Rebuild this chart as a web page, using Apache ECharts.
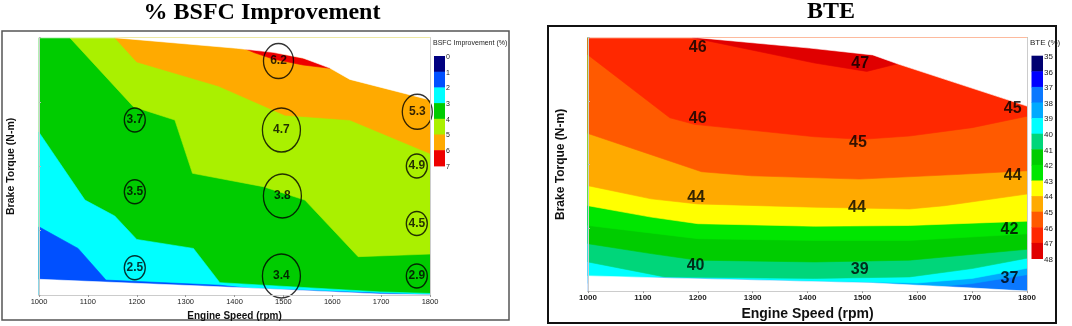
<!DOCTYPE html>
<html>
<head>
<meta charset="utf-8">
<script src="https://cdn.jsdelivr.net/npm/echarts@6/dist/echarts.min.js"></script>
<style>
  html, body { margin: 0; background: #fff; }
  #chart { width: 1072px; height: 326px; }
</style>
</head>
<body>
<div id="chart"></div>
<script>
// points are [engine speed (rpm), brake torque (% of axis)]
const rpmTicks = [1000, 1100, 1200, 1300, 1400, 1500, 1600, 1700, 1800];

// ---- % BSFC improvement ----
const bsfcLevels = [0, 1, 2, 3, 4, 5, 6, 7];
const bsfcColors = ['#000080', '#0050ff', '#00ffff', '#00cc00', '#aaf000', '#ffaa00', '#ee0000'];
const bsfcTop = [[1000, 100], [1155, 100], [1404, 95.9], [1479, 94.3], [1540, 92.1], [1595, 88.2], [1636, 83.8], [1800, 75.8]];
const bsfcBottom = [[1000, 6.1], [1370, 3.2], [1698, 0.4], [1800, 0]];
const bsfcEdge2 = [[1000, 26.5], [1080, 18.1], [1137, 5.8], [1370, 3.8], [1430, 2.6], [1800, 0]];
const bsfcEdge3 = [[1000, 63.2], [1094, 36.9], [1155, 30.7], [1200, 21.6], [1316, 18.1], [1370, 4.8], [1698, 1.2], [1800, 0.6]];
const bsfcEdge4 = [[1063, 100], [1193, 73.2], [1278, 68.0], [1314, 47.3], [1459, 42.1], [1544, 36.9], [1653, 14.9], [1800, 15.9]];
const bsfcEdge5 = [[1155, 100], [1200, 90.6], [1367, 81.2], [1503, 69.9], [1636, 68.0], [1800, 55.0]];
const bsfcPatch6 = [[1400, 97.5], [1600, 89.5], [1596, 88.1], [1540, 89.4], [1479, 91.7], [1440, 94.2]];
const bsfcMarksSmall = [[1196, 68.0, '3.7'], [1196, 40.1, '3.5'], [1196, 10.6, '2.5'], [1773, 50.1, '4.9'], [1773, 27.8, '4.5'], [1773, 7.4, '2.9']];
const bsfcMarksMid = [[1490, 90.9, '6.2'], [1774, 71.2, '5.3']];
const bsfcMarksLarge = [[1496, 64.1, '4.7'], [1498, 38.5, '3.8'], [1496, 7.4, '3.4']];

// ---- BTE ----
const bteLevels = [35, 36, 37, 38, 39, 40, 41, 42, 43, 44, 45, 46, 47, 48];
const bteColors = ['#000070', '#0000ff', '#0a78ff', '#00aaff', '#00ffff', '#00d67a', '#00cc00', '#00e600',
                   '#ffff00', '#ffaa00', '#ff5a00', '#ff2800', '#e00000'];
const bteTop = [[1000, 100], [1200, 100], [1404, 95.9], [1519, 93.2], [1564, 89.7], [1800, 73]];
const bteBottom = [[1000, 6], [1137, 5.2], [1519, 3.2], [1701, 1.2], [1800, 0]];
const bteEdge38 = [[1000, 3], [1500, 2.2], [1650, 2], [1700, 3], [1800, 6.5]];
const bteEdge39 = [[1000, 5], [1140, 5.6], [1413, 4.0], [1600, 3.2], [1700, 5.0], [1800, 9]];
const bteEdge40 = [[1000, 11.5], [1140, 5.6], [1413, 5.0], [1586, 5.6], [1700, 8.9], [1800, 13]];
const bteEdge41 = [[1000, 18.7], [1115, 14.8], [1200, 12.2], [1413, 11.5], [1586, 12.2], [1800, 16.5]];
const bteEdge42 = [[1000, 25.9], [1200, 20.7], [1413, 20], [1586, 20], [1800, 22.6]];
const bteEdge43 = [[1000, 33.7], [1115, 29.2], [1200, 26.6], [1413, 25.6], [1586, 25.9], [1800, 27.6]];
const bteEdge44 = [[1000, 41.6], [1115, 36.4], [1200, 34.4], [1413, 33.1], [1586, 32.4], [1650, 33.7], [1800, 38.3]];
const bteEdge45 = [[1000, 62.2], [1207, 47.1], [1298, 45.5], [1495, 44.2], [1670, 46], [1800, 47.5]];
const bteEdge46 = [[1000, 93.2], [1149, 68.4], [1194, 65.8], [1413, 60.9], [1500, 59.9], [1586, 61.2], [1700, 64.5], [1800, 69]];
const btePatch47 = [[1190, 100], [1404, 97], [1519, 94.5], [1564, 89.7], [1508, 86.7], [1413, 90.0]];
const bteLabels = [[1200, 96.1, '46'], [1200, 68.1, '46'], [1496, 89.9, '47'], [1492, 58.6, '45'], [1774, 71.9, '45'],
                   [1197, 37.0, '44'], [1490, 33.1, '44'], [1774, 45.5, '44'], [1768, 24.2, '42'],
                   [1196, 10.2, '40'], [1495, 8.6, '39'], [1768, 5.0, '37']];

const FULL = [[1000, 0], [1800, 0], [1800, 100], [1000, 100]];
const above = edge => edge.concat([[1800, 100], [1000, 100]]);
const below = edge => edge.concat([[1800, 0], [1000, 0]]);
const maskTop = top => top.concat([[1800, 100]]);
const maskBottom = bot => bot.concat([[1800, 0], [1000, 0]]);

const bsfcBands = [
  { pts: FULL, color: bsfcColors[3] },
  { pts: below(bsfcEdge3), color: bsfcColors[2] },
  { pts: below(bsfcEdge2), color: bsfcColors[1] },
  { pts: bsfcEdge4.concat([[1800, 100]]), color: bsfcColors[4] },
  { pts: bsfcEdge5.concat([[1800, 100]]), color: bsfcColors[5] },
  { pts: bsfcPatch6, color: bsfcColors[6] },
  { pts: maskTop(bsfcTop), color: '#fff' },
  { pts: maskBottom(bsfcBottom), color: '#fff' }
];

const bteBands = [
  { pts: FULL, color: bteColors[2] },
  { pts: above(bteEdge38), color: bteColors[3] },
  { pts: above(bteEdge39), color: bteColors[4] },
  { pts: above(bteEdge40), color: bteColors[5] },
  { pts: above(bteEdge41), color: bteColors[6] },
  { pts: above(bteEdge42), color: bteColors[7] },
  { pts: above(bteEdge43), color: bteColors[8] },
  { pts: above(bteEdge44), color: bteColors[9] },
  { pts: above(bteEdge45), color: bteColors[10] },
  { pts: above(bteEdge46), color: bteColors[11] },
  { pts: btePatch47, color: bteColors[12] },
  { pts: maskTop(bteTop), color: '#fff' },
  { pts: maskBottom(bteBottom), color: '#fff' }
];

function bandSeries(bands, idx) {
  return {
    type: 'custom',
    xAxisIndex: idx * 2,
    yAxisIndex: idx * 2,
    silent: true,
    data: bands.map(() => [1000, 0]),
    renderItem: (params, api) => {
      const b = bands[params.dataIndex];
      return {
        type: 'polygon',
        shape: { points: b.pts.map(p => api.coord(p)) },
        style: { fill: b.color, stroke: b.color, lineWidth: 0.6 }
      };
    }
  };
}

function circleSeries(marks, size) {
  return {
    type: 'scatter',
    xAxisIndex: 0, yAxisIndex: 0,
    data: marks,
    clip: false,
    z: 5,
    symbol: 'circle',
    symbolSize: size,
    itemStyle: { color: 'rgba(0,0,0,0)', borderColor: '#000', borderWidth: 1.4 },
    label: {
      show: true, position: 'inside', formatter: p => p.value[2],
      color: '#000', fontFamily: 'Arial', fontWeight: 'bold', fontSize: 12
    }
  };
}

function colorBar(levels, colors, x, y0, w, h, fs) {
  const out = [];
  colors.forEach((c, i) => {
    out.push({ type: 'rect', shape: { x: x, y: y0 + i * h, width: w, height: h + 0.5 }, style: { fill: c } });
  });
  levels.forEach((v, i) => {
    out.push({ type: 'text', x: x + w + 1, y: y0 + i * h + 1,
      style: { text: String(v), font: fs + 'px Arial', fill: '#222', verticalAlign: 'middle' } });
  });
  return out;
}

function xAxes(grid, labelSize, nameSize) {
  return [{
    gridIndex: grid, type: 'value', min: rpmTicks[0], max: rpmTicks[rpmTicks.length - 1], interval: 100, z: 10,
    name: 'Engine Speed (rpm)', nameLocation: 'middle', nameGap: nameSize > 12 ? 12 : 13,
    nameTextStyle: { fontFamily: 'Arial', fontWeight: 'bold', fontSize: nameSize, color: '#111' },
    axisLine: { lineStyle: { color: '#999', width: 1 } },
    axisTick: { length: 2, lineStyle: { color: '#999' } },
    axisLabel: { fontSize: labelSize, fontFamily: 'Arial', color: '#222', margin: 3,
                 fontWeight: grid ? 'bold' : 'normal', formatter: v => String(v) },
    splitLine: { show: false }
  }, {
    gridIndex: grid, type: 'value', min: 1000, max: 1800, position: 'top', z: 10,
    axisLine: { lineStyle: { color: '#ccc' } }, axisTick: { show: false }, axisLabel: { show: false },
    splitLine: { show: false }
  }];
}

function yAxes(grid, nameSize, gap) {
  return [{
    gridIndex: grid, type: 'value', min: 0, max: 100, interval: 25, z: 10,
    name: 'Brake Torque (N-m)', nameLocation: 'middle', nameGap: gap,
    nameTextStyle: { fontFamily: 'Arial', fontWeight: 'bold', fontSize: nameSize, color: '#111' },
    axisLine: { show: true, lineStyle: { color: '#ccc' } },
    axisTick: { inside: true, length: 2, lineStyle: { color: '#bbb' } },
    axisLabel: { show: false },
    splitLine: { show: false }
  }, {
    gridIndex: grid, type: 'value', min: 0, max: 100, position: 'right', z: 10,
    axisLine: { show: true, lineStyle: { color: '#ccc' } }, axisTick: { show: false }, axisLabel: { show: false },
    splitLine: { show: false }
  }];
}

const chart = echarts.init(document.getElementById('chart'));
chart.setOption({
  animation: false,
  grid: [
    { left: 39, right: 642, top: 37.7, bottom: 31 },
    { left: 588, right: 45, top: 37.7, bottom: 33.3 }
  ],
  xAxis: xAxes(0, 7.5, 10).concat(xAxes(1, 8, 14)),
  yAxis: yAxes(0, 10.5, 22).concat(yAxes(1, 12, 21)),
  graphic: [
    { type: 'rect', shape: { x: 2, y: 31, width: 507, height: 289 }, style: { fill: 'none', stroke: '#555', lineWidth: 1.5 } },
    { type: 'rect', shape: { x: 548, y: 26, width: 508, height: 297 }, style: { fill: 'none', stroke: '#111', lineWidth: 2 } },
    { type: 'text', x: 262, y: 13, style: { text: '% BSFC Improvement', font: 'bold 24px "Liberation Serif"', fill: '#000', align: 'center', verticalAlign: 'middle' } },
    { type: 'text', x: 831, y: 12, style: { text: 'BTE', font: 'bold 24px "Liberation Serif"', fill: '#000', align: 'center', verticalAlign: 'middle' } },
    { type: 'text', x: 433, y: 43, style: { text: 'BSFC Improvement (%)', font: '7px Arial', fill: '#222', verticalAlign: 'middle' } },
    { type: 'text', x: 1030, y: 43, style: { text: 'BTE (%)', font: '8px Arial', fill: '#222', verticalAlign: 'middle' } }
  ].concat(colorBar(bsfcLevels, bsfcColors, 434, 56, 11, 15.7, 7))
   .concat(colorBar(bteLevels, bteColors, 1031.5, 55.7, 11.5, 15.6, 8)),
  series: [
    bandSeries(bsfcBands, 0),
    bandSeries(bteBands, 1),
    circleSeries(bsfcMarksSmall, [21, 24]),
    circleSeries(bsfcMarksMid, [30, 35]),
    circleSeries(bsfcMarksLarge, [38, 44]),
    {
      type: 'scatter', xAxisIndex: 2, yAxisIndex: 2, data: bteLabels, clip: false, z: 5,
      symbolSize: 1, itemStyle: { color: 'rgba(0,0,0,0)' },
      label: { show: true, position: 'inside', formatter: p => p.value[2], color: '#000',
               fontFamily: 'Arial', fontWeight: 'bold', fontSize: 16 }
    }
  ]
});
</script>
</body>
</html>
